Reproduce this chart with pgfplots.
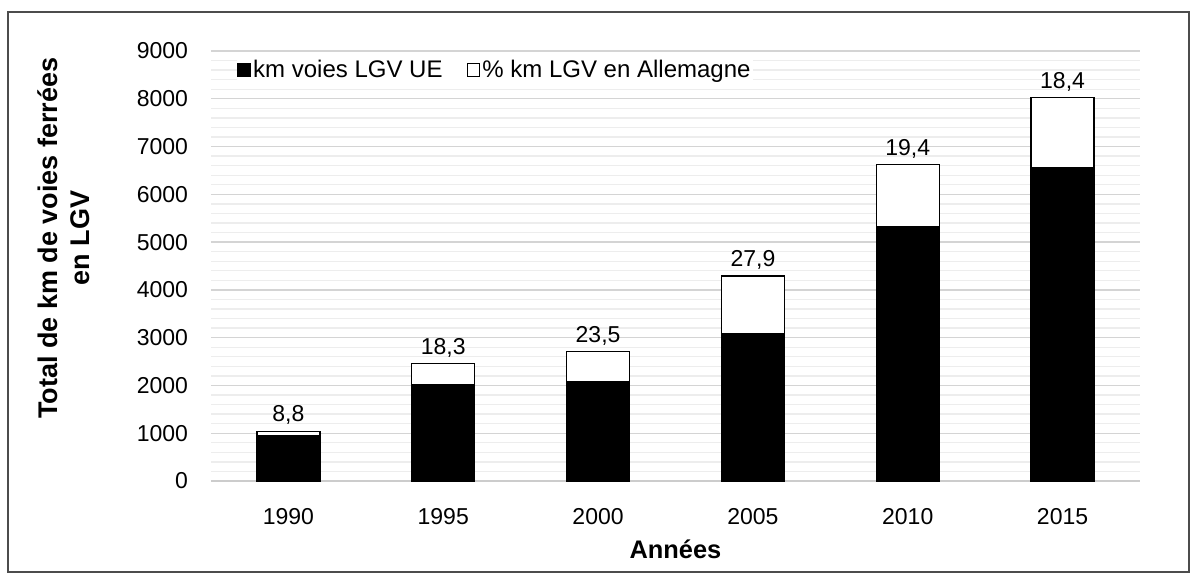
\documentclass[border=0pt]{standalone}
\usepackage{fontspec}
\setmainfont{Liberation Sans}
\usepackage{pgfplots}
\usepackage{pgfplotstable}
\pgfplotsset{compat=1.18}
\pgfplotstableread{
x y
0 950
1 2010
2 2075
3 3095
4 5335
5 6550
}\tblack
\pgfplotstableread{
x y
0 90
1 450
2 635
3 1195
4 1285
5 1480
}\twhite
\pgfplotstableread{
x y lab
0 1040 8,8
1 2460 18,3
2 2710 23,5
3 4290 27,9
4 6620 19,4
5 8030 18,4
}\tlab
\begin{document}
\begin{tikzpicture}
\path[use as bounding box] (0pt,0pt) rectangle (597.5pt,289.5pt);
\draw[black!70, line width=0.6pt] (4pt,3.5pt) rectangle (594.5pt,283.5pt);
\begin{axis}[
  at={(105.5pt,49pt)}, anchor=south west,
  width=464.5pt, height=215pt, scale only axis,
  xmin=-0.5, xmax=5.5, ymin=0, ymax=9000,
  ybar stacked, bar width=31.5pt,
  xtick={0,1,2,3,4,5},
  xticklabels={1990,1995,2000,2005,2010,2015},
  ytick={0,1000,...,9000},
  minor y tick num=4,
  ymajorgrids, yminorgrids,
  major grid style={draw=black!17, line width=0.7pt},
  minor grid style={draw=black!7, line width=0.7pt},
  axis x line*=bottom, axis y line*=left,
  x axis line style={draw=black!20, line width=0.8pt, -},
  y axis line style={draw=none},
  tick style={draw=none},
  major tick length=0pt, minor tick length=0pt,
  scaled y ticks=false,
  /pgf/number format/assume math mode=true,
  /pgf/number format/set thousands separator={},
  tick label style={font=\fontsize{11.5}{13}\selectfont},
  yticklabel style={xshift=-8pt},
  xticklabel style={yshift=-10pt},
  xlabel={Années},
  ylabel={Total de km de voies ferrées\\en LGV},
  xlabel style={at={(axis description cs:0.5,-0.158)}, anchor=center, font=\fontsize{12.7}{15}\selectfont\bfseries},
  ylabel style={at={(axis description cs:-0.158,0.565)}, anchor=center, align=center, font=\fontsize{13.5}{16}\selectfont\bfseries},
  legend style={at={(axis description cs:0.028,0.956)}, anchor=west, draw=none, fill=white,
    legend columns=2, font=\fontsize{12}{14}\selectfont, inner sep=0pt,
    nodes={inner sep=1pt},
    /tikz/every even column/.append style={column sep=11pt}},
  legend cell align=left,
  legend image code/.code={\draw[#1, line width=0.5pt] (0pt,-3.2pt) rectangle (6.4pt,3.2pt);},
  clip=false,
]
\addplot[fill=black, draw=black, line width=0.6pt] table[x=x,y=y] {\tblack};
\addplot[fill=white, draw=black, line width=0.6pt] table[x=x,y=y] {\twhite};
\legend{km voies LGV UE,\% km LGV en Allemagne}
\end{axis}
\begin{axis}[
  at={(105.5pt,49pt)}, anchor=south west,
  width=464.5pt, height=215pt, scale only axis,
  xmin=-0.5, xmax=5.5, ymin=0, ymax=9000,
  hide axis, clip=false,
]
\addplot[draw=none, mark=none,
  nodes near coords, point meta=explicit symbolic,
  every node near coord/.append style={font=\fontsize{11.5}{13}\selectfont, anchor=south, inner sep=2pt, yshift=1pt}]
  table[x=x,y=y,meta=lab] {\tlab};
\end{axis}
\end{tikzpicture}
\end{document}
